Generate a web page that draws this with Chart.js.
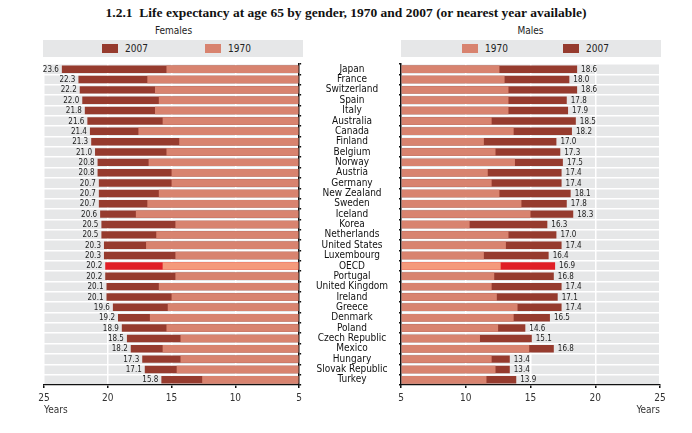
<!DOCTYPE html>
<html>
<head>
<meta charset="utf-8">
<title>Life expectancy at age 65 by gender</title>
<script src="https://cdn.jsdelivr.net/npm/chart.js@4.4.1/dist/chart.umd.min.js"></script>
<style>
  html, body { margin: 0; padding: 0; background: #fff; }
  #wrap { position: relative; width: 692px; height: 433px; overflow: hidden;
          font-family: "Liberation Sans Narrow", "DejaVu Sans Condensed", sans-serif; color: #222; }
  #title { position: absolute; left: 0; top: 5px; width: 692px; text-align: center;
           font: bold 13.5px "Liberation Serif", serif; color: #111; }
  .panel { position: absolute; top: 25px; width: 259px; text-align: center; font-size: 10px; }
  .legend { position: absolute; top: 40px; height: 17px; width: 260px; background: #e6e7e8; font-size: 10px; }
  .item { position: absolute; top: 0; height: 17px; line-height: 17px; white-space: nowrap; }
  .box { display: inline-block; width: 16px; height: 9px; vertical-align: -1px; margin-right: 7px; }
  .years { position: absolute; top: 404px; font-size: 10px; color: #333; }
  canvas { position: absolute; top: 0; }
</style>
</head>
<body>
<div id="wrap">
  <div id="title">1.2.1&nbsp; Life expectancy at age 65 by gender, 1970 and 2007 (or nearest year available)</div>
  <div class="panel" style="left:44px">Females</div>
  <div class="panel" style="left:401px">Males</div>
  <div class="legend" style="left:43px">
    <div class="item" style="left:59px"><span class="box" style="background:#963b2e"></span>2007</div>
    <div class="item" style="left:162px"><span class="box" style="background:#d8836f"></span>1970</div>
  </div>
  <div class="legend" style="left:401px">
    <div class="item" style="left:61px"><span class="box" style="background:#d8836f"></span>1970</div>
    <div class="item" style="left:162px"><span class="box" style="background:#963b2e"></span>2007</div>
  </div>
  <canvas id="females" width="306" height="433" style="left:0"></canvas>
  <canvas id="males" width="386" height="433" style="left:306px"></canvas>
  <div class="years" style="left:44px">Years</div>
</div>
<script>
// values (years of life expectancy at 65)
const countries = ['Japan', 'France', 'Switzerland', 'Spain', 'Italy', 'Australia', 'Canada', 'Finland',
  'Belgium', 'Norway', 'Austria', 'Germany', 'New Zealand', 'Sweden', 'Iceland', 'Korea', 'Netherlands',
  'United States', 'Luxembourg', 'OECD', 'Portugal', 'United Kingdom', 'Ireland', 'Greece', 'Denmark',
  'Poland', 'Czech Republic', 'Mexico', 'Hungary', 'Slovak Republic', 'Turkey'];

const female2007 = [23.6, 22.3, 22.2, 22.0, 21.8, 21.6, 21.4, 21.3, 21.0, 20.8, 20.8, 20.7, 20.7, 20.7, 20.6,
  20.5, 20.5, 20.3, 20.3, 20.2, 20.2, 20.1, 20.1, 19.6, 19.2, 18.9, 18.5, 18.2, 17.3, 17.1, 15.8];
const female1970 = [15.4, 16.9, 16.3, 16.0, 16.3, 15.7, 17.6, 14.4, 15.4, 16.8, 15.0, 15.0, 16.0, 16.9, 17.8,
  14.7, 16.2, 17.0, 14.7, 15.7, 14.7, 16.0, 15.0, 15.3, 16.7, 15.4, 14.3, 15.7, 14.3, 14.6, 12.6];

const male2007 = [18.6, 18.0, 18.6, 17.8, 17.9, 18.5, 18.2, 17.0, 17.3, 17.5, 17.4, 17.4, 18.1, 17.8, 18.3,
  16.3, 17.0, 17.4, 16.4, 16.9, 16.8, 17.4, 17.1, 17.4, 16.5, 14.6, 15.1, 16.8, 13.4, 13.4, 13.9];
const male1970 = [12.6, 13.0, 13.3, 13.3, 13.3, 12.0, 13.7, 11.4, 12.3, 13.8, 11.7, 12.0, 12.6, 14.3, 15.0,
  10.3, 13.3, 13.1, 11.4, 12.7, 12.2, 12.0, 12.4, 14.0, 13.7, 12.5, 11.1, 14.9, 12.0, 12.3, 11.6];

const axisMin = 5;
const axisMax = 25;

const dark = '#963b2e';
const light = '#d8836f';
const oecdDark = '#e01f26';
const oecdLight = '#f49a7b';
const narrow = '"Liberation Sans Narrow", "DejaVu Sans Condensed", sans-serif';

function colours(base, oecd) {
  return countries.map(c => c === 'OECD' ? oecd : base);
}

// grey plot background
const plotBackground = {
  id: 'plotBackground',
  beforeDraw(chart) {
    const { ctx, chartArea: a } = chart;
    ctx.save();
    ctx.fillStyle = '#e6e7e8';
    ctx.fillRect(a.left, a.top, a.right - a.left, a.bottom - a.top);
    ctx.restore();
  }
};

// 2007 value written at the end of each bar
const valueLabels = {
  id: 'valueLabels',
  afterDatasetsDraw(chart, args, opts) {
    const { ctx } = chart;
    const meta = chart.getDatasetMeta(1);
    const values = chart.data.datasets[1].data;
    ctx.save();
    ctx.font = '8px ' + narrow;
    ctx.fillStyle = '#222';
    ctx.textBaseline = 'middle';
    ctx.textAlign = opts.side === 'left' ? 'right' : 'left';
    meta.data.forEach((bar, i) => {
      const x = opts.side === 'left' ? bar.x - 3 : bar.x + 4;
      ctx.fillText(values[i].toFixed(1), x, bar.y + 0.5);
    });
    ctx.restore();
  }
};

// centre the country names between the two panels
const measure = document.createElement('canvas').getContext('2d');
measure.font = '10px ' + narrow;
const widest = Math.max(...countries.map(c => measure.measureText(c).width));
const labelPadding = Math.max(0, 95 - 2 - 46 - widest / 2);

function makeChart(id, o) {
  return new Chart(document.getElementById(id), {
    type: 'bar',
    data: {
      labels: countries,
      datasets: [
        { label: '1970', data: o.v1970, backgroundColor: colours(light, oecdLight), order: 0 },
        { label: '2007', data: o.v2007, backgroundColor: colours(dark, oecdDark), order: 1 }
      ]
    },
    options: {
      indexAxis: 'y',
      responsive: false,
      animation: false,
      layout: { padding: o.padding },
      datasets: {
        bar: { grouped: false, base: axisMin, categoryPercentage: 1, barPercentage: 0.72 }
      },
      scales: {
        x: {
          min: axisMin,
          max: axisMax,
          reverse: o.reverse,
          afterFit: s => { s.height = 48; },
          ticks: { stepSize: 5, padding: 4, color: '#333', font: { family: narrow, size: 10 } },
          grid: { color: '#fff', lineWidth: 1.5, tickColor: '#111', tickLength: 3 },
          border: { color: '#111', width: 1.2 },
          title: {
            display: o.showTitle, text: 'Years', align: 'end', color: '#333',
            padding: { top: 0, bottom: 17 }, font: { family: narrow, size: 10 }
          }
        },
        y: {
          position: o.yPosition,
          afterFit: s => { s.width = o.yWidth; },
          ticks: {
            display: o.showLabels, crossAlign: 'center', padding: labelPadding, autoSkip: false,
            color: '#111', font: { family: narrow, size: 10 }
          },
          grid: { color: '#fff', lineWidth: 1.5, offset: true, tickColor: '#111', tickLength: 2 },
          border: { color: '#111', width: 1.5 }
        }
      },
      plugins: {
        legend: { display: false },
        tooltip: { enabled: false },
        valueLabels: { side: o.side }
      }
    },
    plugins: [plotBackground, valueLabels]
  });
}

// the reversed axis misplaces its title, so the female "Years" is a page label
makeChart('females', {
  v1970: female1970, v2007: female2007, reverse: true, side: 'left', showTitle: false,
  yPosition: 'right', yWidth: 3, showLabels: false,
  padding: { left: 44, top: 64, right: 0, bottom: 0 }
});

makeChart('males', {
  v1970: male1970, v2007: male2007, reverse: false, side: 'right', showTitle: true,
  yPosition: 'left', yWidth: 95, showLabels: true,
  padding: { left: 0, top: 64, right: 32, bottom: 0 }
});
</script>
</body>
</html>
